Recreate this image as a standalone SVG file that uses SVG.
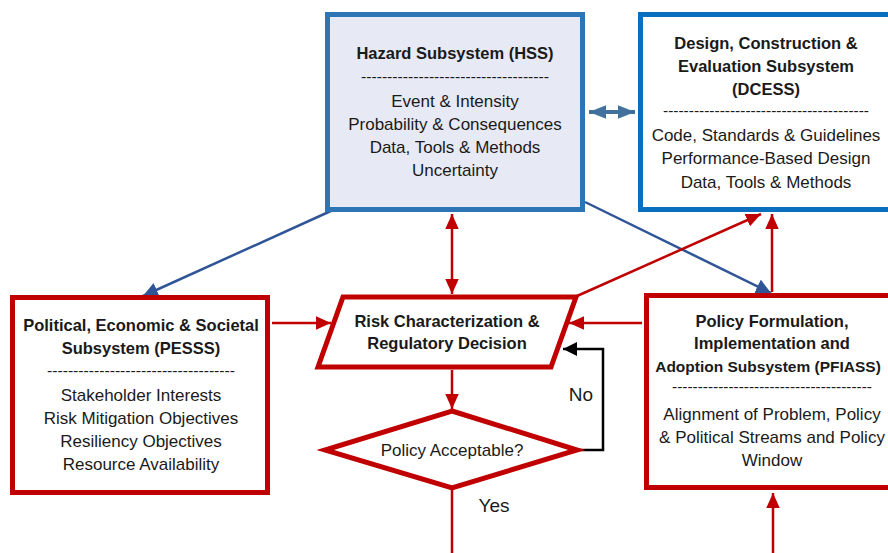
<svg xmlns="http://www.w3.org/2000/svg" width="888" height="553" viewBox="0 0 888 553">
<style>
  text { font-family: "Liberation Sans", Arial, sans-serif; fill: #1a1a1a; text-anchor: middle; }
  .t { font-size: 16.5px; font-weight: bold; }
  .b { font-size: 17px; }
  .y { font-size: 19px; }
  .d { font-size: 14px; }
  .red { stroke: #C00000; stroke-width: 5; fill: #ffffff; }
  .rl { stroke: #C00000; stroke-width: 2.5; fill: none; }
  .bl { stroke: #2F5597; stroke-width: 2.5; fill: none; }
</style>
<defs>
  <marker id="ar" viewBox="0 0 10 10" refX="10" refY="5" markerWidth="15" markerHeight="15" markerUnits="userSpaceOnUse" orient="auto-start-reverse">
    <path d="M0,0.5 L10,5 L0,9.5 Z" fill="#C00000"/>
  </marker>
  <marker id="ab" viewBox="0 0 10 10" refX="10" refY="5" markerWidth="15" markerHeight="15" markerUnits="userSpaceOnUse" orient="auto">
    <path d="M0,0 L10,5 L0,10 Z" fill="#2F5597"/>
  </marker>
  <marker id="ak" viewBox="0 0 10 10" refX="10" refY="5" markerWidth="14" markerHeight="14" markerUnits="userSpaceOnUse" orient="auto">
    <path d="M0,0 L10,5 L0,10 Z" fill="#000000"/>
  </marker>
  <marker id="as" viewBox="0 0 10 10" refX="10" refY="5" markerWidth="17" markerHeight="17" markerUnits="userSpaceOnUse" orient="auto-start-reverse">
    <path d="M0,1 L10,5 L0,9 Z" fill="#41719C"/>
  </marker>
</defs>

<g id="connectors">
  <line class="bl" x1="333" y1="210" x2="143" y2="296" marker-end="url(#ab)"/>
  <line class="bl" x1="585" y1="202" x2="771" y2="293" marker-end="url(#ab)"/>
  <line class="rl" x1="452" y1="214" x2="452" y2="294" marker-start="url(#ar)" marker-end="url(#ar)"/>
  <line class="rl" x1="577" y1="296" x2="761" y2="214" marker-end="url(#ar)"/>
  <line class="rl" x1="772" y1="292" x2="772" y2="214" marker-end="url(#ar)"/>
  <line x1="589" y1="112" x2="635" y2="112" stroke="#41719C" stroke-width="4" marker-start="url(#as)" marker-end="url(#as)"/>
  <line class="rl" x1="272" y1="323" x2="331" y2="323" marker-end="url(#ar)"/>
  <line class="rl" x1="642" y1="323" x2="569" y2="323" marker-end="url(#ar)"/>
  <line class="rl" x1="452" y1="370" x2="452" y2="409" marker-end="url(#ar)"/>
  <polyline points="578,450 603,450 603,349 563,349" fill="none" stroke="#000" stroke-width="2.5" marker-end="url(#ak)"/>
  <line class="rl" x1="452" y1="489" x2="452" y2="553"/>
  <line class="rl" x1="773" y1="553" x2="773" y2="493" marker-end="url(#ar)"/>
  <text class="y" x="581" y="401">No</text>
  <text class="y" x="494" y="512">Yes</text>
</g>

<g id="hss">
  <rect x="327.5" y="14.5" width="255" height="195" fill="#E7E9F5" stroke="#2E75B6" stroke-width="5"/>
  <text class="t" x="455" y="59">Hazard Subsystem (HSS)</text>
  <text class="d" x="455" y="82" textLength="188" lengthAdjust="spacingAndGlyphs">------------------------------------</text>
  <text class="b" x="455" y="107">Event &amp; Intensity</text>
  <text class="b" x="455" y="130">Probability &amp; Consequences</text>
  <text class="b" x="455" y="153">Data, Tools &amp; Methods</text>
  <text class="b" x="455" y="176">Uncertainty</text>
</g>

<g id="dcess">
  <rect x="640.5" y="14.5" width="260" height="195" fill="#ffffff" stroke="#0B6FC0" stroke-width="5"/>
  <text class="t" x="766" y="49">Design, Construction &amp;</text>
  <text class="t" x="766" y="72">Evaluation Subsystem</text>
  <text class="t" x="766" y="95">(DCESS)</text>
  <text class="d" x="766" y="116" textLength="206" lengthAdjust="spacingAndGlyphs">----------------------------------------</text>
  <text class="b" x="766" y="141">Code, Standards &amp; Guidelines</text>
  <text class="b" x="766" y="164">Performance-Based Design</text>
  <text class="b" x="766" y="188">Data, Tools &amp; Methods</text>
</g>

<g id="pesss">
  <rect x="12.5" y="297.5" width="255" height="195" class="red"/>
  <text class="t" x="141" y="331">Political, Economic &amp; Societal</text>
  <text class="t" x="141" y="354">Subsystem (PESSS)</text>
  <text class="d" x="141" y="376" textLength="188" lengthAdjust="spacingAndGlyphs">------------------------------------</text>
  <text class="b" x="141" y="401">Stakeholder Interests</text>
  <text class="b" x="141" y="424">Risk Mitigation Objectives</text>
  <text class="b" x="141" y="447">Resiliency Objectives</text>
  <text class="b" x="141" y="470">Resource Availability</text>
</g>

<g id="risk">
  <polygon points="343,297 576,297 551,367 318,367" class="red"/>
  <text class="t" x="447" y="327">Risk Characterization &amp;</text>
  <text class="t" x="447" y="349">Regulatory Decision</text>
</g>

<g id="decision">
  <polygon points="452,411 577,450 452,488 325,450" class="red"/>
  <text class="b" x="452" y="456">Policy Acceptable?</text>
</g>

<g id="pfiass">
  <rect x="646.5" y="295.5" width="260" height="192" class="red"/>
  <text class="t" x="772" y="327">Policy Formulation,</text>
  <text class="t" x="772" y="349">Implementation and</text>
  <text class="t" x="768" y="372" style="font-size:15.5px">Adoption Subsystem (PFIASS)</text>
  <text class="d" x="772" y="392" textLength="200" lengthAdjust="spacingAndGlyphs">---------------------------------------</text>
  <text class="b" x="772" y="420">Alignment of Problem, Policy</text>
  <text class="b" x="772" y="443">&amp; Political Streams and Policy</text>
  <text class="b" x="772" y="466">Window</text>
</g>
</svg>
